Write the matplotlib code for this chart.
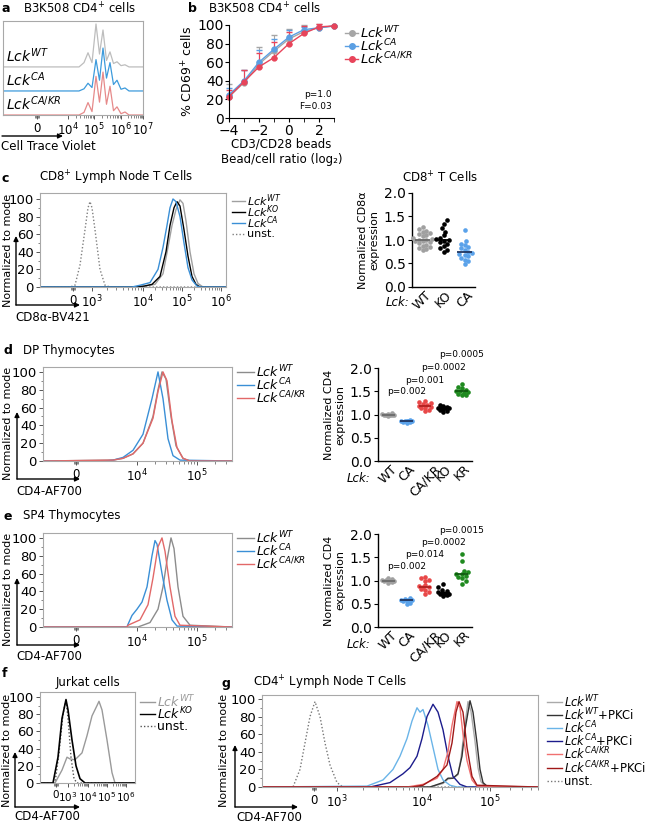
import numpy as np
import matplotlib
matplotlib.use('Agg')
import matplotlib.pyplot as plt
from matplotlib.patches import FancyArrowPatch
from matplotlib.lines import Line2D

plt.rcParams['font.family'] = ['DejaVu Sans']
plt.rcParams['mathtext.fontset'] = 'dejavusans'

W, H = 647, 822

# ---------------- data ----------------
# flow histograms: x in display channels of each plot, y in % of mode

# a: Cell Trace Violet dilution (three offset traces)
a_x = [0, 76, 81, 85, 89, 93, 96.5, 100, 103.5, 107, 110.5, 114, 118, 122, 126, 140]
a_wt = [0, 0, 10, 33, 10, 100, 30, 86, 15, 35, 8, 12, 3, 5, 0, 0]
a_ca = [0, 0, 5, 18, 8, 73, 25, 100, 30, 66, 15, 25, 4, 7, 0, 0]
a_cakr = [0, 0, 6, 29, 8, 90, 30, 100, 25, 67, 10, 19, 3, 7, 0, 0]

# b: CD69 dose response
b_ratio = [-4, -3, -2, -1, 0, 1, 2, 3]
b_wt = [23, 38, 58, 72, 85, 93, 97, 99]
b_wt_sd = [14, 14, 18, 17, 11, 7, 4, 0]
b_ca = [25, 40, 60, 74, 87, 95, 97, 99]
b_ca_sd = [7, 12, 13, 11, 8, 3, 2, 0]
b_cakr = [23, 39, 55, 65, 80, 91, 98, 99]
b_cakr_sd = [7, 13, 15, 17, 13, 8, 3, 0]

# c: CD8a on CD8+ LN T cells
c_unst_x = [0, 30, 35, 40, 45, 48, 50, 52, 55, 60, 65, 70, 186]
c_unst_y = [0, 0, 2, 25, 65, 90, 97, 90, 65, 20, 2, 0, 0]
c_wt_x = [0, 95, 105, 115, 123, 128, 132, 136, 140, 143, 146, 150, 154, 158, 163, 186]
c_wt_y = [0, 0, 1, 3, 15, 45, 70, 88, 99, 95, 75, 40, 15, 4, 0, 0]
c_ko_x = [0, 95, 104, 112, 120, 126, 130, 134, 137, 140, 144, 148, 152, 156, 160, 186]
c_ko_y = [0, 0, 1, 3, 12, 40, 70, 90, 97, 92, 65, 35, 12, 3, 0, 0]
c_ca_x = [0, 92, 100, 110, 118, 123, 127, 130, 133, 136, 140, 144, 148, 152, 157, 160, 186]
c_ca_y = [0, 0, 2, 5, 20, 45, 70, 90, 100, 97, 80, 50, 22, 8, 1, 0, 0]

c_dot_cats = ['WT', 'KO', 'CA']
c_dot_wt = [1.27, 1.23, 1.2, 1.18, 1.15, 1.12, 1.1, 1.08, 1.05, 1.02, 1.0, 1.0,
            0.98, 0.97, 0.95, 0.93, 0.9, 0.88, 0.85, 0.82, 0.8, 0.78]
c_dot_ko = [1.42, 1.35, 1.25, 1.18, 1.1, 1.05, 1.02, 1.0, 0.98, 0.95, 0.92, 0.88,
            0.82, 0.78, 0.75]
c_dot_ca = [1.22, 0.98, 0.92, 0.9, 0.85, 0.82, 0.78, 0.75, 0.72, 0.7, 0.68, 0.65,
            0.62, 0.58, 0.55, 0.48]

# d: CD4 on DP thymocytes
d_wt_x = [0, 70, 80, 90, 100, 110, 115, 119, 123, 128, 133, 140, 147, 189]
d_wt_y = [0, 1, 3, 8, 20, 50, 80, 100, 92, 50, 17, 3, 0, 0]
d_ca_x = [0, 62, 70, 80, 90, 100, 109, 115, 120, 125, 130, 137, 189]
d_ca_y = [0, 0, 1, 4, 12, 30, 70, 100, 70, 25, 6, 1, 0]
d_cakr_x = [0, 70, 80, 90, 100, 110, 115, 120, 124, 129, 134, 140, 147, 189]
d_cakr_y = [0, 1, 3, 8, 20, 48, 78, 100, 90, 45, 15, 3, 0, 0]

dot_cats = ['WT', 'CA', 'CA/KR', 'KO', 'KR']
d_dot_wt = [1.03, 1.02, 1.01, 1.0, 1.0, 0.99, 0.98, 0.97, 1.0]
d_dot_ca = [0.88, 0.87, 0.86, 0.85, 0.85, 0.84, 0.83, 0.82, 0.86]
d_dot_cakr = [1.3, 1.27, 1.25, 1.22, 1.2, 1.17, 1.15, 1.13, 1.1, 1.08, 1.18]
d_dot_ko = [1.2, 1.18, 1.16, 1.15, 1.14, 1.13, 1.12, 1.1, 1.08, 1.06, 1.15]
d_dot_kr = [1.65, 1.6, 1.56, 1.52, 1.5, 1.48, 1.47, 1.45, 1.43, 1.42, 1.5]
d_pvals = ['p=0.002', 'p=0.001', 'p=0.0002', 'p=0.0005']

# e: CD4 on SP4 thymocytes
e_wt_x = [0, 95, 107, 115, 120, 124, 128, 131, 135, 140, 147, 189]
e_wt_y = [0, 0, 5, 20, 45, 75, 100, 88, 45, 12, 2, 0]
e_ca_x = [0, 84, 85, 89, 94, 99, 104, 109, 112, 114, 119, 124, 129, 134, 189]
e_ca_y = [0, 0, 3, 13, 20, 28, 45, 80, 97, 93, 60, 30, 8, 1, 0]
e_cakr_x = [0, 84, 85, 97, 105, 110, 115, 119, 122, 127, 132, 137, 189]
e_cakr_y = [0, 0, 2, 8, 25, 55, 90, 100, 85, 45, 12, 2, 0]

e_dot_wt = [1.05, 1.03, 1.02, 1.0, 1.0, 0.98, 0.97, 0.95, 1.01]
e_dot_ca = [0.62, 0.6, 0.59, 0.58, 0.58, 0.56, 0.55, 0.52, 0.5]
e_dot_cakr = [1.08, 1.05, 1.02, 1.0, 0.9, 0.88, 0.85, 0.85, 0.82, 0.8, 0.75, 0.7]
e_dot_ko = [0.92, 0.85, 0.8, 0.78, 0.75, 0.73, 0.72, 0.7, 0.7, 0.68, 0.67]
e_dot_kr = [1.56, 1.43, 1.2, 1.18, 1.15, 1.13, 1.1, 1.08, 1.05, 1.0, 0.93]
e_pvals = ['p=0.002', 'p=0.014', 'p=0.0002', 'p=0.0015']

# f: Jurkat CD4
f_wt_x = [0, 15, 22, 27, 30, 35, 42, 47, 52, 57, 59, 62, 67, 72, 75, 95]
f_wt_y = [0, 0, 15, 30, 28, 27, 35, 55, 78, 90, 95, 85, 50, 12, 0, 0]
f_ko_x = [0, 13, 18, 22, 26, 28, 32, 36, 40, 45, 95]
f_ko_y = [0, 0, 30, 75, 97, 85, 50, 20, 5, 0, 0]
f_unst_x = [0, 15, 19, 23, 26, 28, 31, 34, 37, 95]
f_unst_y = [0, 0, 35, 80, 97, 75, 30, 5, 0, 0]

# g: CD4 on CD4+ LN T cells +/- PKC inhibitor
g_wt_x = [0, 168, 181, 186, 191, 196, 199, 202, 206, 209, 213, 216, 219, 224, 276]
g_wt_y = [0, 0, 4, 9, 10, 14, 33, 62, 97, 86, 52, 22, 6, 0, 0]
g_wtpk_x = [0, 168, 181, 186, 191, 196, 200, 203, 208, 211, 215, 218, 221, 226, 276]
g_wtpk_y = [0, 0, 5, 10, 10, 15, 35, 65, 98, 85, 50, 20, 5, 0, 0]
g_ca_x = [0, 105, 121, 131, 138, 145, 150, 155, 158, 161, 166, 171, 176, 181, 188, 195, 276]
g_ca_y = [0, 1, 8, 20, 35, 55, 75, 90, 85, 88, 70, 45, 20, 8, 2, 0, 0]
g_capk_x = [0, 108, 128, 141, 148, 155, 160, 165, 171, 176, 181, 186, 191, 198, 205, 276]
g_capk_y = [0, 0, 5, 15, 22, 35, 55, 80, 94, 85, 65, 35, 12, 3, 0, 0]
g_cakr_x = [0, 145, 161, 175, 181, 186, 190, 195, 198, 201, 205, 210, 215, 276]
g_cakr_y = [0, 0, 3, 10, 20, 40, 70, 97, 90, 60, 30, 8, 1, 0]
g_cakrpk_x = [0, 150, 161, 175, 185, 190, 194, 197, 201, 205, 210, 215, 276]
g_cakrpk_y = [0, 0, 2, 12, 25, 50, 85, 97, 85, 45, 12, 2, 0]
g_unst_x = [0, 31, 38, 43, 48, 53, 58, 63, 68, 75, 81, 276]
g_unst_y = [0, 0, 20, 50, 80, 97, 80, 50, 25, 5, 0, 0]

GRAY, BLUE, RED = '#a0a0a0', '#3a8fd6', '#e26868'


def lck(sup):
    return r'$\mathit{Lck}^{\mathit{' + sup + r'}}$'


fig = plt.figure(figsize=(W / 100, H / 100), dpi=100)


def px_rect(l, t, r, b):
    return [l / W, 1 - b / H, (r - l) / W, (b - t) / H]


def ftext(x, y, s, **kw):
    kw.setdefault('va', 'center')
    return fig.text(x / W, 1 - y / H, s, **kw)


def arrow(x0, y0, x1, y1):
    fig.add_artist(FancyArrowPatch((x0 / W, 1 - y0 / H), (x1 / W, 1 - y1 / H),
                                   transform=fig.transFigure, arrowstyle='-|>',
                                   mutation_scale=7, lw=1, color='k',
                                   shrinkA=0, shrinkB=0))


def line_legend(x0, rows, entries, length=13, fs=9, marker=None):
    for y, (label, color, ls, tcol) in zip(rows, entries):
        yy = 1 - y / H
        fig.add_artist(Line2D([x0 / W, (x0 + length) / W], [yy, yy], color=color,
                              lw=1, ls=ls, transform=fig.transFigure))
        if marker:
            fig.add_artist(Line2D([(x0 + length / 2) / W], [yy], color=color, marker=marker,
                                  ms=4, transform=fig.transFigure))
        fig.text((x0 + length + 2) / W, yy, label, fontsize=fs, va='center', color=tcol)


def decade_minors(pairs):
    out = []
    for lo, hi in pairs:
        out += [lo + np.log10(m) * (hi - lo) for m in range(2, 10)]
    return out


def flow_axes(rect, ymax, ticks, labels, decades, zero, yticks=True, xfs=8.5):
    ax = fig.add_axes(px_rect(*rect))
    width = rect[2] - rect[0]
    for s in ax.spines.values():
        s.set_color('#a8a8a8')
        s.set_linewidth(0.8)
    ax.set_xticks(ticks, labels, fontsize=xfs)
    minors = decade_minors(decades) + [zero - 2, zero - 1, zero + 1, zero + 2]
    ax.set_xticks([m for m in minors if 0 < m < width], minor=True)
    ax.tick_params(axis='x', which='major', length=3, width=0.7, color='#555', pad=2)
    ax.tick_params(axis='x', which='minor', length=1.8, width=0.5, color='#555')
    if yticks:
        ax.set_yticks(range(0, 101, 20))
        ax.set_yticks(range(10, 100, 20), minor=True)
        ax.tick_params(axis='y', which='major', length=3, width=0.7, labelsize=9.5,
                       color='#555', pad=1.5)
        ax.tick_params(axis='y', which='minor', length=1.8, width=0.5, color='#555')
    else:
        ax.set_yticks([])
    ax.set_xlim(0, width)
    ax.set_ylim(0, ymax)
    return ax


def swarm(vals, xpx, ypx, d=3.8, wmax=9):
    # beeswarm offsets (pixels -> data units), points may overlap once the band is full
    vals = np.asarray(vals, float)
    cands = np.arange(0, wmax + 0.01, d / 2)
    cands = np.concatenate([[0]] + [[c, -c] for c in cands[1:]])
    placed, offs = [], np.zeros(len(vals))
    for i in np.argsort(vals):
        y = vals[i] * ypx
        best, best_gap = 0.0, -1
        for c in cands:
            gap = min([np.hypot(c - px, y - py) for px, py in placed] or [99])
            if gap >= d:
                best = c
                break
            if gap > best_gap:
                best, best_gap = c, gap
        offs[i] = best / xpx
        placed.append((best, y))
    return offs


def dot_axes(rect, cats, groups, colors, lcolors, xpx, ylab, wmax):
    ax = fig.add_axes(px_rect(*rect))
    n = len(cats)
    ax.set_xlim(-0.5 - 0.05 * (n > 3), n - 0.5 + 0.05 * (n > 3))
    ax.set_ylim(0, 2)
    ax.spines[['top', 'right']].set_visible(False)
    for s in ax.spines.values():
        s.set_linewidth(1)
    ax.set_yticks([0, 0.5, 1, 1.5, 2], ['0.0', '0.5', '1.0', '1.5', '2.0'])
    ax.tick_params(axis='y', labelsize=10, length=3, pad=1.5)
    ax.set_xticks(range(n), cats, rotation=45, ha='center', fontsize=9)
    ax.tick_params(axis='x', length=0, pad=1)
    ax.set_ylabel(ylab, fontsize=8, labelpad=3)
    ypx = (rect[3] - rect[1]) / 2
    for i, (vals, c, lc) in enumerate(zip(groups, colors, lcolors)):
        offs = swarm(vals, xpx, ypx, wmax=wmax)
        ax.scatter(i + offs, vals, s=11, color=c, lw=0, zorder=3, clip_on=False)
        ax.hlines(np.median(vals), i - 0.35, i + 0.35, color=lc, lw=1.3, zorder=4)
    return ax


# ---------------- a ----------------
ftext(2, 9, 'a', fontsize=9, weight='bold')
ftext(23, 9, r'B3K508 CD4$^{+}$ cells', fontsize=8.5)
ax = flow_axes((3, 21, 143, 115), 219, [34, 65, 91, 118, 140],
               ['0', r'$10^{4}$', r'$10^{5}$', r'$10^{6}$', r'$10^{7}$'],
               [(65, 91), (91, 118), (118, 140)], 34, yticks=False)
for off, ys, col, lab in [(112, a_wt, '#bdbdbd', 'WT'), (56, a_ca, '#3d9bdc', 'CA'),
                          (0, a_cakr, '#e68a8a', 'CA/KR')]:
    ax.plot(a_x, np.asarray(ys) + off, color=col, lw=0.9)
    ax.text(3, off + 5, lck(lab), fontsize=10, va='bottom', ha='left')
arrow(2, 136, 63, 136)
ftext(1, 147, 'Cell Trace Violet', fontsize=8.5)

# ---------------- b ----------------
ftext(188, 9, 'b', fontsize=9, weight='bold')
ftext(208, 9, r'B3K508 CD4$^{+}$ cells', fontsize=8.5)
ax = fig.add_axes(px_rect(229, 25, 334, 118))
ax.set_xlim(-4, 3)
ax.set_ylim(0, 100)
ax.spines[['top', 'right']].set_visible(False)
ax.set_xticks([-4, -2, 0, 2])
ax.set_xticks([-3, -1, 1, 3], minor=True)
ax.set_yticks(range(0, 101, 20))
ax.tick_params(labelsize=10, length=3, pad=1)
ax.tick_params(which='minor', length=3)
for ys, sd, col in [(b_wt, b_wt_sd, '#a6a6a6'), (b_ca, b_ca_sd, '#5b9fe3'),
                    (b_cakr, b_cakr_sd, '#e8445a')]:
    ax.errorbar(b_ratio, ys, yerr=[np.zeros(len(sd)), sd], color=col, lw=1,
                marker='o', ms=3.5, capsize=2, elinewidth=0.8, clip_on=False)
ax.set_ylabel(r'% CD69$^{+}$ cells', fontsize=9, labelpad=1)
ax.set_xlabel('CD3/CD28 beads\nBead/cell ratio (log₂)', fontsize=8.5, labelpad=0,
              linespacing=1.2)
ax.text(0.98, 0.08, 'p=1.0\nF=0.03', transform=ax.transAxes, ha='right', va='bottom',
        fontsize=6.5, linespacing=1.3)
line_legend(345, [33, 46, 59], [(lck('WT'), '#a6a6a6', '-', 'k'),
                                (lck('CA'), '#5b9fe3', '-', 'k'),
                                (lck('CA/KR'), '#e8445a', '-', 'k')], fs=9.5, marker='o')

# ---------------- c ----------------
ftext(2, 178, 'c', fontsize=9, weight='bold')
ftext(39, 178, r'CD8$^{+}$ Lymph Node T Cells', fontsize=8.5)
ax = flow_axes((40, 193, 226, 287), 106.8, [33, 52, 103, 142, 181],
               ['0', r'$10^{3}$', r'$10^{4}$', r'$10^{5}$', r'$10^{6}$'],
               [(52, 103), (103, 142), (142, 181)], 33)
ax.plot(c_unst_x, c_unst_y, color='#808080', lw=1, ls=(0, (1, 1.5)))
ax.plot(c_wt_x, c_wt_y, color=GRAY, lw=1)
ax.plot(c_ko_x, c_ko_y, color='k', lw=1)
ax.plot(c_ca_x, c_ca_y, color=BLUE, lw=1)
line_legend(232, [201, 212, 223, 234], [(lck('WT'), GRAY, '-', 'k'), (lck('KO'), 'k', '-', 'k'),
                                        (lck('CA'), BLUE, '-', 'k'),
                                        ('unst.', '#808080', (0, (1, 1.5)), 'k')], fs=8)
ftext(8, 250, 'Normalized to mode', fontsize=8, rotation=90, ha='center')
arrow(16, 305, 16, 236)
arrow(16, 305, 80, 305)
ftext(15, 317, 'CD8α-BV421', fontsize=8.5)

ftext(440, 178, r'CD8$^{+}$ T Cells', fontsize=8.5, ha='center')
dot_axes((412, 193, 475, 287), c_dot_cats, [c_dot_wt, c_dot_ko, c_dot_ca],
         ['#a0a0a0', 'k', '#5aa2ea'], ['#6a6a6a', 'k', '#1f3560'], 21,
         'Normalized CD8α\nexpression', 10)
ftext(409, 303, 'Lck:', fontsize=8.5, style='italic', ha='right')

# ---------------- d / e ----------------
for row, (letter, title, top, wtx, wty, cax, cay, krx, kry, dots, pv, pv_y) in enumerate([
        ('d', 'DP Thymocytes', 367, d_wt_x, d_wt_y, d_ca_x, d_ca_y, d_cakr_x, d_cakr_y,
         [d_dot_wt, d_dot_ca, d_dot_cakr, d_dot_ko, d_dot_kr], d_pvals, [1.5, 1.74, 2.02, 2.3]),
        ('e', 'SP4 Thymocytes', 533, e_wt_x, e_wt_y, e_ca_x, e_ca_y, e_cakr_x, e_cakr_y,
         [e_dot_wt, e_dot_ca, e_dot_cakr, e_dot_ko, e_dot_kr], e_pvals, [1.31, 1.56, 1.81, 2.08])]):
    ty = top - 17
    ftext(3, ty, letter, fontsize=9, weight='bold')
    ftext(23, ty, title, fontsize=8.5)
    ax = flow_axes((43, top, 232, top + 94), 105.5, [33, 94, 154],
                   ['0', r'$10^{4}$', r'$10^{5}$'], [(94, 154), (154, 214)], 33)
    ax.plot(wtx, wty, color='#8c8c8c', lw=1)
    ax.plot(cax, cay, color=BLUE, lw=1)
    ax.plot(krx, kry, color=RED, lw=1)
    line_legend(237, [top + 5, top + 18, top + 31], [(lck('WT'), '#8c8c8c', '-', 'k'),
                                                     (lck('CA'), BLUE, '-', 'k'),
                                                     (lck('CA/KR'), RED, '-', 'k')],
                length=17)
    ftext(8, top + 56, 'Normalized to mode', fontsize=8, rotation=90, ha='center')
    arrow(17, top + 112, 17, top + 45)
    arrow(17, top + 112, 80, top + 112)
    ftext(16, top + 124, 'CD4-AF700', fontsize=8.5)

    dax = dot_axes((378, top + 1, 472, top + 94), dot_cats, dots,
                   ['#a0a0a0', '#5aa2ea', '#e84848', 'k', '#1f8a1f'],
                   ['#6a6a6a', '#1f3560', '#b02020', 'k', '#0f5a0f'], 18.5,
                   'Normalized CD4\nexpression', 7)
    for i, (s, yv) in enumerate(zip(pv, pv_y)):
        dax.text(i + 1, yv, s, ha='center', va='center', fontsize=6.5, clip_on=False)
    ftext(370, top + 111, 'Lck:', fontsize=8.5, style='italic', ha='right')

# ---------------- f ----------------
ftext(2, 673, 'f', fontsize=9, weight='bold')
ftext(88, 682, 'Jurkat cells', fontsize=8.5, ha='center')
ax = flow_axes((40, 692, 135, 783), 105.8, [16, 28, 48, 67, 86],
               ['0', r'$10^{3}$', r'$10^{4}$', r'$10^{5}$', r'$10^{6}$'],
               [(28, 48), (48, 67), (67, 86)], 16, xfs=7.5)
ax.plot(f_unst_x, f_unst_y, color='#555555', lw=1, ls=(0, (1, 1.5)))
ax.plot(f_wt_x, f_wt_y, color='#9a9a9a', lw=1)
ax.plot(f_ko_x, f_ko_y, color='k', lw=1.2)
line_legend(140, [702, 714, 726], [(lck('WT'), '#9a9a9a', '-', '#9a9a9a'),
                                   (lck('KO'), 'k', '-', 'k'),
                                   ('unst.', '#555555', (0, (1, 1.5)), 'k')], length=15)
ftext(7, 750, 'Normalized to mode', fontsize=8, rotation=90, ha='center')
arrow(15, 807, 15, 752)
arrow(15, 807, 80, 807)
ftext(14, 816, 'CD4-AF700', fontsize=8.5)

# ---------------- g ----------------
ftext(222, 683, 'g', fontsize=9, weight='bold')
ftext(253, 683, r'CD4$^{+}$ Lymph Node T Cells', fontsize=8.5)
ax = flow_axes((262, 695, 538, 787), 104.5, [52, 75, 160, 228],
               ['0', r'$10^{3}$', r'$10^{4}$', r'$10^{5}$'],
               [(75, 160), (160, 228), (228, 296)], 52)
g_series = [(g_unst_x, g_unst_y, '#777777', (0, (1, 1.5)), 'unst.'),
            (g_wt_x, g_wt_y, '#aaaaaa', '-', lck('WT')),
            (g_wtpk_x, g_wtpk_y, '#333333', '-', lck('WT') + '+PKCi'),
            (g_ca_x, g_ca_y, '#6ab4e8', '-', lck('CA')),
            (g_capk_x, g_capk_y, '#1c1c8c', '-', lck('CA') + '+PKCi'),
            (g_cakr_x, g_cakr_y, '#f07070', '-', lck('CA/KR')),
            (g_cakrpk_x, g_cakrpk_y, '#a01818', '-', lck('CA/KR') + '+PKCi')]
for xs, ys, col, ls, lab in g_series:
    ax.plot(xs, ys, color=col, lw=1, ls=ls)
leg_order = g_series[1:] + g_series[:1]
line_legend(547, [702, 715, 728, 741, 754, 768, 781],
            [(lab, col, ls, 'k') for xs, ys, col, ls, lab in leg_order], length=15, fs=8.3)
ftext(224, 750, 'Normalized to mode', fontsize=8, rotation=90, ha='center')
arrow(235, 807, 235, 745)
arrow(235, 807, 298, 807)
ftext(236, 817, 'CD4-AF700', fontsize=8.5)

fig.savefig('out.png', dpi=100)
